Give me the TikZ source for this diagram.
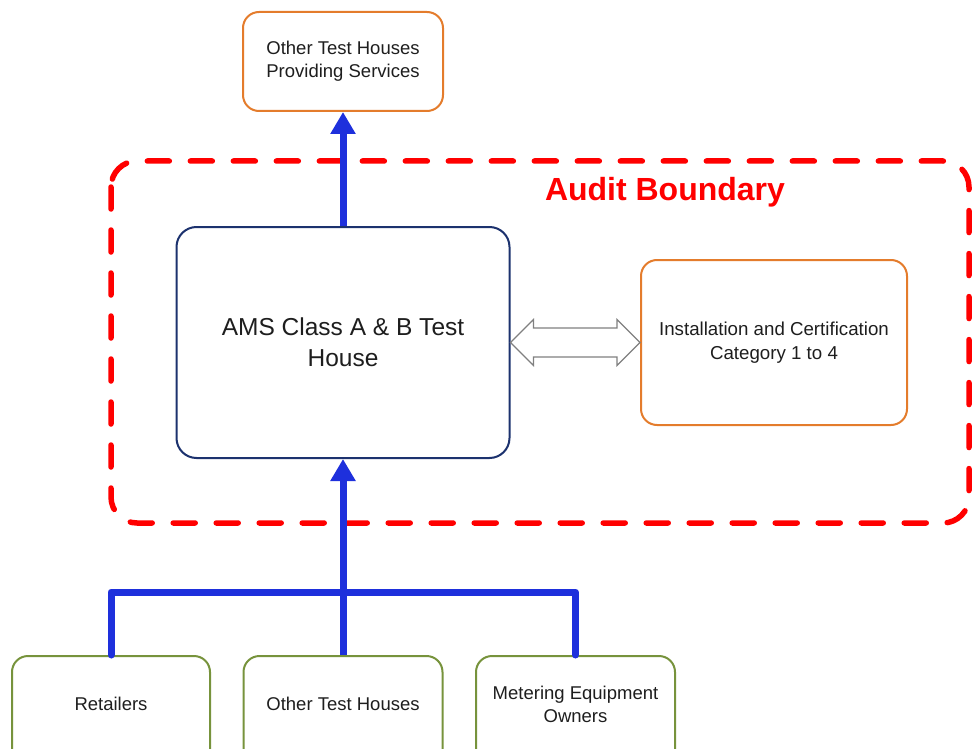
\documentclass[tikz,border=0pt]{standalone}
\usepackage{fontspec}
\setmainfont{Liberation Sans}
\usetikzlibrary{arrows.meta,calc}
\definecolor{boxorange}{RGB}{228,124,44}
\definecolor{boxnavy}{RGB}{28,50,110}
\definecolor{boxgreen}{RGB}{119,147,60}
\definecolor{arrblue}{RGB}{30,48,220}
\definecolor{txt}{RGB}{30,30,30}
\definecolor{dblgray}{RGB}{128,128,128}
\tikzset{
  rbox/.style={draw, rounded corners=16pt, line width=2pt, fill=white, inner sep=0pt, align=center, text=txt},
  orangebox/.style={rbox, draw=boxorange},
  navybox/.style={rbox, draw=boxnavy, rounded corners=20pt},
  greenbox/.style={rbox, draw=boxgreen},
  lbl/.style={align=center, text=txt, inner sep=0pt, font=\fontsize{18.5}{23}\selectfont},
  bluearr/.style={draw=arrblue, line width=7pt, -{Triangle[length=22pt,width=24pt]}},
  blueline/.style={draw=arrblue, line width=7pt, line cap=round, line join=round},
  boundary/.style={draw=red, line width=5.5pt, line cap=round, rounded corners=26pt, dash pattern=on 22pt off 21pt},
}
\begin{document}
\begin{tikzpicture}[x=1pt,y=-1pt]
\useasboundingbox (0,0) rectangle (972,749);
\clip (0,0) rectangle (972,749);
% audit boundary
\draw[boundary] (111,161) rectangle (969,523);
\node[text=red, font=\fontsize{32}{38}\selectfont\bfseries, inner sep=0pt] (audit) at (665,192) {Audit Boundary};
% boxes
\node[orangebox, minimum width=200pt, minimum height=99pt, font=\fontsize{18.5}{23}\selectfont] (top) at (343,61.5) {Other Test Houses\\Providing Services};
\node[navybox, minimum width=333pt, minimum height=231pt, font=\fontsize{24.5}{31}\selectfont] (main) at (343,342.5) {AMS Class A \& B Test\\House};
\node[orangebox, minimum width=266pt, minimum height=165pt, font=\fontsize{18.7}{24}\selectfont] (inst) at (774,342.5) {Installation and Certification\\Category 1 to 4};
\node[greenbox, minimum width=198pt, minimum height=120pt] (ret) at (111,716) {};
\node[greenbox, minimum width=199pt, minimum height=120pt] (oth) at (343,716) {};
\node[greenbox, minimum width=199pt, minimum height=120pt] (meo) at (575.5,716) {};
\node[lbl] (retl) at (111,704) {Retailers};
\node[lbl] (othl) at (343,704) {Other Test Houses};
\node[lbl] (meol) at (575.5,704.5) {Metering Equipment\\Owners};
% blue connectors
\coordinate (bus) at (343,592);
\draw[blueline] (ret.north) |- (bus) -| (meo.north);
\draw[bluearr] (oth.north) -- (main.south);
\draw[bluearr] (main.north) -- (top.south);
% hollow double arrow
\coordinate (L) at (main.east);
\coordinate (R) at (inst.west);
\draw[draw=dblgray, line width=1.2pt, fill=white, line join=miter]
  (L) -- ($(L)+(23,-23)$) -- ($(L)+(23,-14.5)$) -- ($(R)+(-23,-14.5)$) -- ($(R)+(-23,-23)$) -- (R)
  -- ($(R)+(-23,23)$) -- ($(R)+(-23,14.5)$) -- ($(L)+(23,14.5)$) -- ($(L)+(23,23)$) -- cycle;
\end{tikzpicture}
\end{document}
